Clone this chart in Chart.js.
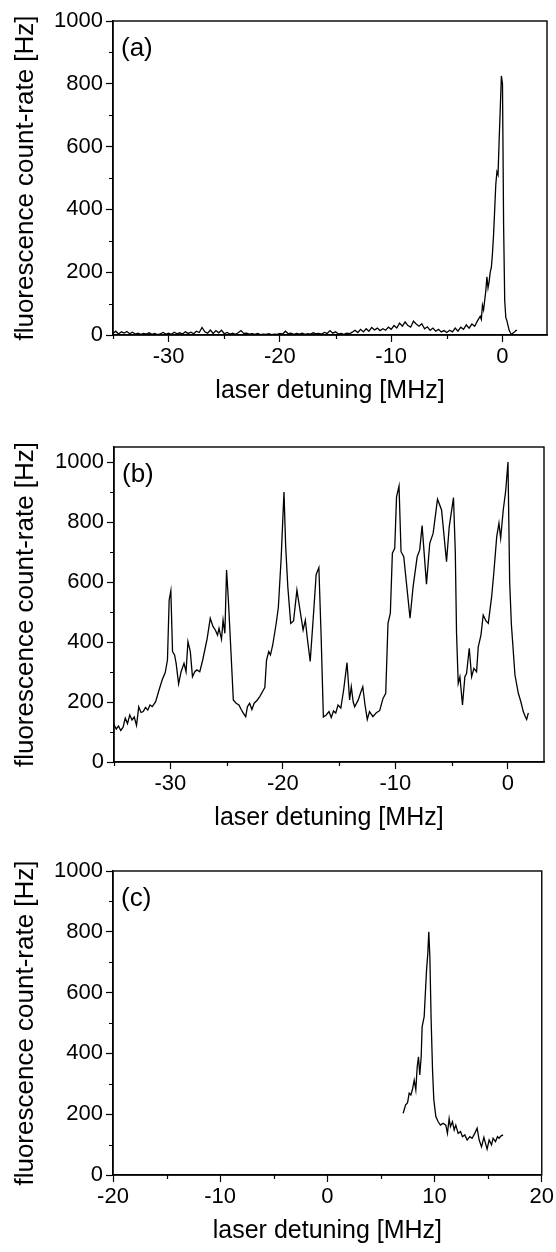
<!DOCTYPE html>
<html>
<head>
<meta charset="utf-8">
<script src="https://cdn.jsdelivr.net/npm/chart.js@4"></script>
<style>
  html, body { margin: 0; padding: 0; background: #fff; }
  #figure { position: relative; width: 556px; height: 1252px; }
  #figure canvas { position: absolute; left: 0; }
</style>
</head>
<body>
<div id="figure">
  <canvas id="panelA" width="556" height="420" style="top:0"></canvas>
  <canvas id="panelB" width="556" height="420" style="top:420px"></canvas>
  <canvas id="panelC" width="556" height="412" style="top:840px"></canvas>
</div>
<script>
// ---- data ----
const xTitle = 'laser detuning [MHz]';
const yTitle = 'fluorescence count-rate [Hz]';

const yMajor = [0, 200, 400, 600, 800, 1000];
const yMinor = [100, 300, 500, 700, 900];
const xMajorAB = [-30, -20, -10, 0];
const xMinorAB = [-35, -25, -15, -5];
const xMajorC = [-20, -10, 0, 10, 20];
const xMinorC = [-15, -5, 5, 15];

// panel (a)
const detuningA = [
  -35, -34.75, -34.5, -34.25, -34, -33.75, -33.5, -33.25, -33, -32.75, -32.5, -32.25, -32, -31.75, -31.5, -31.25, -31, -30.75, -30.5, -30.25,
  -30, -29.75, -29.5, -29.25, -29, -28.75, -28.5, -28.25, -28, -27.75, -27.5, -27.25, -27, -26.75, -26.5, -26.25, -26, -25.75, -25.5, -25.25,
  -25, -24.75, -24.5, -24.25, -24, -23.75, -23.5, -23.25, -23, -22.75, -22.5, -22.25, -22, -21.75, -21.5, -21.25, -21, -20.75, -20.5, -20.25,
  -20, -19.75, -19.5, -19.25, -19, -18.75, -18.5, -18.25, -18, -17.75, -17.5, -17.25, -17, -16.75, -16.5, -16.25, -16, -15.75, -15.5, -15.25,
  -15, -14.75, -14.5, -14.25, -14, -13.75, -13.5, -13.25, -13, -12.75, -12.5, -12.25, -12, -11.75, -11.5, -11.25, -11, -10.75, -10.5, -10.25,
  -10, -9.75, -9.5, -9.25, -9, -8.75, -8.5, -8.25, -8, -7.75, -7.5, -7.25, -7, -6.75, -6.5, -6.25, -6, -5.75, -5.5, -5.25,
  -5, -4.75, -4.5, -4.25, -4, -3.75, -3.5, -3.25, -3, -2.75, -2.5, -2.25,
  -2, -1.9, -1.8, -1.7, -1.6, -1.5, -1.4, -1.3, -1.2, -1.1, -1, -0.9, -0.8, -0.7, -0.6, -0.5, -0.4, -0.3, -0.2, -0.1,
  0, 0.1, 0.2, 0.3, 0.4, 0.5, 0.6, 0.7, 0.8, 0.9, 1, 1.1, 1.2, 1.3
];
const rateA = [
  5, 12, 3, 10, 6, 11, 4, 9, 3, 6, 2, 5, 3, 7, 2, 5, 1, 4, 8, 3,
  6, 2, 9, 4, 7, 3, 10, 5, 9, 4, 12, 8, 24, 10, 6, 16, 5, 14, 7, 15,
  4, 8, 3, 6, 2, 7, 14, 5, 6, 3, 4, 2, 5, 1, 3, 2, 4, 1, 3, 2,
  5, 3, 12, 4, 6, 2, 5, 3, 6, 2, 4, 3, 7, 4, 5, 3, 8, 5, 14, 6,
  10, 3, 5, 2, 6, 4, 9, 15, 8, 18, 10, 20, 12, 24, 16, 22, 14, 20, 15, 25,
  18, 30, 22, 38, 28, 42, 30, 25, 44, 35, 28, 36, 20, 26, 15, 22, 12, 18, 10, 14,
  8, 15, 10, 22, 12, 25, 18, 32, 22, 35, 28, 45,
  60, 50, 95, 80, 110, 140, 185, 150, 170, 200, 215, 260, 320, 400, 480, 520, 510, 620, 720, 825,
  800, 350, 110, 55, 45, 30, 15, 8, 2, 5, 8, 10, 14, 16
];

// panel (b)
const detuningB = [
  -35, -34.8, -34.6, -34.4, -34.2, -34, -33.8, -33.6, -33.4, -33.2, -33, -32.8, -32.6, -32.4, -32.2, -32, -31.8, -31.6, -31.3, -31,
  -30.7, -30.45, -30.25, -30.1, -29.95, -29.8, -29.62, -29.48, -29.26, -29.04, -28.78, -28.6, -28.43, -28.22, -28.03, -27.82, -27.64, -27.38, -27.12, -26.72,
  -26.45, -26.2, -26, -25.8, -25.67, -25.45, -25.31, -25.15, -25, -24.84, -24.6, -24.4, -24.15, -23.9, -23.7, -23.5, -23.3, -23.15, -22.95, -22.75,
  -22.55, -22.3, -22.05, -21.8, -21.6, -21.45, -21.25, -21.1, -20.9, -20.6, -20.4, -20.15, -19.9, -19.75, -19.56, -19.3, -19.05, -18.75, -18.45, -18.2,
  -18, -17.85, -17.57, -17.3, -17.04, -16.8, -16.6, -16.4, -16.15, -15.9, -15.7, -15.5, -15.3, -15.1, -14.85, -14.6, -14.3, -14.07, -13.92, -13.75,
  -13.62, -13.3, -13.1, -12.9, -12.7, -12.5, -12.3, -12, -11.7, -11.4, -11.1, -10.86, -10.66, -10.45, -10.27, -10.06, -9.9, -9.68, -9.5, -9.26,
  -8.7, -8.43, -8.07, -7.84, -7.63, -7.24, -6.95, -6.65, -6.26, -5.9, -5.46, -5.22, -4.84, -4.68, -4.57, -4.42, -4.27, -4.04, -3.83, -3.68,
  -3.44, -3.23, -3.03, -2.79, -2.64, -2.4, -2.2, -1.95, -1.75, -1.45, -1.25, -1, -0.8, -0.65, -0.42, -0.2, 0, 0.15, 0.3, 0.62,
  0.92, 1.15, 1.36, 1.55, 1.66, 1.81
];
const rateB = [
  125, 110, 120, 105, 115, 146, 128, 157, 140, 150, 122, 184, 165, 168, 182, 173, 190, 185, 201, 240,
  276, 298, 340, 540, 571, 368, 357, 329, 260, 301, 329, 301, 401, 368, 284, 301, 307, 301, 340, 412,
  479, 451, 440, 423, 446, 409, 473, 429, 640, 540, 360, 207, 196, 190, 175, 162, 151, 184, 196, 175,
  196, 205, 218, 235, 248, 340, 368, 357, 390, 460, 515, 680, 900, 720, 584, 462, 470, 573, 500, 440,
  473, 420, 335, 480, 625, 648, 420, 150, 157, 168, 148, 170, 163, 190, 180, 240, 331, 207, 251, 200,
  184, 207, 230, 251, 190, 142, 168, 151, 164, 171, 212, 229, 462, 496, 696, 712, 884, 920, 701, 684,
  479, 584, 684, 707, 788, 593, 729, 762, 876, 840, 668, 784, 881, 700, 429, 262, 284, 190, 284, 295,
  379, 284, 312, 301, 384, 423, 490, 470, 462, 551, 634, 751, 796, 746, 840, 905, 1000, 600, 460, 290,
  229, 200, 168, 150, 142, 164
];

// panel (c)
const detuningC = [
  7.07, 7.29, 7.48, 7.63, 7.79, 7.94, 8.1, 8.25, 8.38, 8.5, 8.62, 8.75, 8.84, 9.03, 9.25, 9.37, 9.46, 9.56, 9.68, 9.81,
  9.93, 10.12, 10.33, 10.55, 10.8, 11.05, 11.2, 11.36, 11.48, 11.67, 11.83, 11.98, 12.2, 12.42, 12.6, 12.82, 13.04, 13.29, 13.5, 13.75,
  13.97, 14.16, 14.38, 14.6, 14.75, 14.9, 15.09, 15.31, 15.46, 15.68, 15.87, 16.02, 16.18, 16.39
];
const rateC = [
  203, 230, 238, 269, 263, 282, 312, 280, 356, 389, 329, 389, 488, 521, 674, 729, 800, 718, 510, 345,
  247, 192, 175, 164, 170, 164, 137, 186, 159, 175, 148, 164, 137, 143, 126, 132, 115, 126, 121, 137,
  154, 115, 93, 124, 104, 85, 115, 99, 121, 110, 126, 121, 128, 132
];

// ---- drawing ----
const FONT = '"Liberation Sans", Arial, Helvetica, sans-serif';
Chart.defaults.font.family = FONT;
Chart.defaults.color = '#000';

// closed box, minor ticks and the panel tag
const framePlugin = {
  id: 'frame',
  afterDraw(chart, args, o) {
    const { ctx, chartArea: a, scales: { x, y } } = chart;
    ctx.save();
    ctx.strokeStyle = '#000';
    ctx.lineWidth = 1.4;
    ctx.strokeRect(a.left, a.top, a.right - a.left, a.bottom - a.top);
    ctx.lineWidth = 1.2;
    ctx.beginPath();
    o.minorX.forEach(v => {
      const p = Math.round(x.getPixelForValue(v)) + 0.5;
      ctx.moveTo(p, a.bottom);
      ctx.lineTo(p, a.bottom + 4);
    });
    o.minorY.forEach(v => {
      const p = Math.round(y.getPixelForValue(v)) + 0.5;
      ctx.moveTo(a.left, p);
      ctx.lineTo(a.left - 4, p);
    });
    ctx.stroke();
    ctx.fillStyle = '#000';
    ctx.font = '26px ' + FONT;
    ctx.textBaseline = 'middle';
    ctx.fillText(o.tag, a.left + 8, a.top + 28);
    ctx.restore();
  }
};

function makePanel(id, cfg) {
  const points = cfg.xs.map((v, i) => ({ x: v, y: cfg.ys[i] }));
  return new Chart(document.getElementById(id), {
    type: 'scatter',
    data: {
      datasets: [{
        data: points,
        showLine: true,
        borderColor: '#000',
        borderWidth: 1.3,
        pointRadius: 0,
        tension: 0
      }]
    },
    options: {
      responsive: false,
      animation: false,
      events: [],
      layout: { padding: cfg.padding },
      scales: {
        x: {
          type: 'linear',
          min: cfg.xMin,
          max: cfg.xMax,
          afterBuildTicks: s => { s.ticks = cfg.xMajor.map(v => ({ value: v })); },
          afterFit: s => { s.height = 71; },
          ticks: { font: { size: 22 }, padding: 2, color: '#000', callback: v => String(v) },
          grid: { drawOnChartArea: false, tickLength: 7, tickWidth: 1.2, tickColor: '#000' },
          border: { color: '#000', width: 1.4 },
          title: { display: true, text: xTitle, font: { size: 25 }, padding: 0, color: '#000' }
        },
        y: {
          type: 'linear',
          min: 0,
          max: cfg.yMax,
          afterBuildTicks: s => { s.ticks = yMajor.map(v => ({ value: v })); },
          afterFit: s => { s.width = cfg.yWidth; },
          ticks: { font: { size: 22 }, padding: 3, color: '#000', callback: v => String(v) },
          grid: { drawOnChartArea: false, tickLength: 7, tickWidth: 1.2, tickColor: '#000' },
          border: { color: '#000', width: 1.4 },
          title: { display: true, text: yTitle, font: { size: 26 }, padding: { top: 10, bottom: 0 }, color: '#000' }
        }
      },
      plugins: {
        legend: { display: false },
        tooltip: { enabled: false },
        frame: { tag: cfg.tag, minorX: cfg.xMinor, minorY: yMinor }
      }
    },
    plugins: [framePlugin]
  });
}

makePanel('panelA', {
  tag: '(a)', xs: detuningA, ys: rateA, xMin: -35, xMax: 4, yMax: 1000,
  xMajor: xMajorAB, xMinor: xMinorAB, yWidth: 113,
  padding: { top: 21, right: 9, bottom: 14, left: 0 }
});
makePanel('panelB', {
  tag: '(b)', xs: detuningB, ys: rateB, xMin: -35, xMax: 3.2, yMax: 1050,
  xMajor: xMajorAB, xMinor: xMinorAB, yWidth: 114,
  padding: { top: 27, right: 12, bottom: 7, left: 0 }
});
makePanel('panelC', {
  tag: '(c)', xs: detuningC, ys: rateC, xMin: -20, xMax: 20, yMax: 1000,
  xMajor: xMajorC, xMinor: xMinorC, yWidth: 113,
  padding: { top: 31, right: 14, bottom: 6, left: 0 }
});
</script>
</body>
</html>
